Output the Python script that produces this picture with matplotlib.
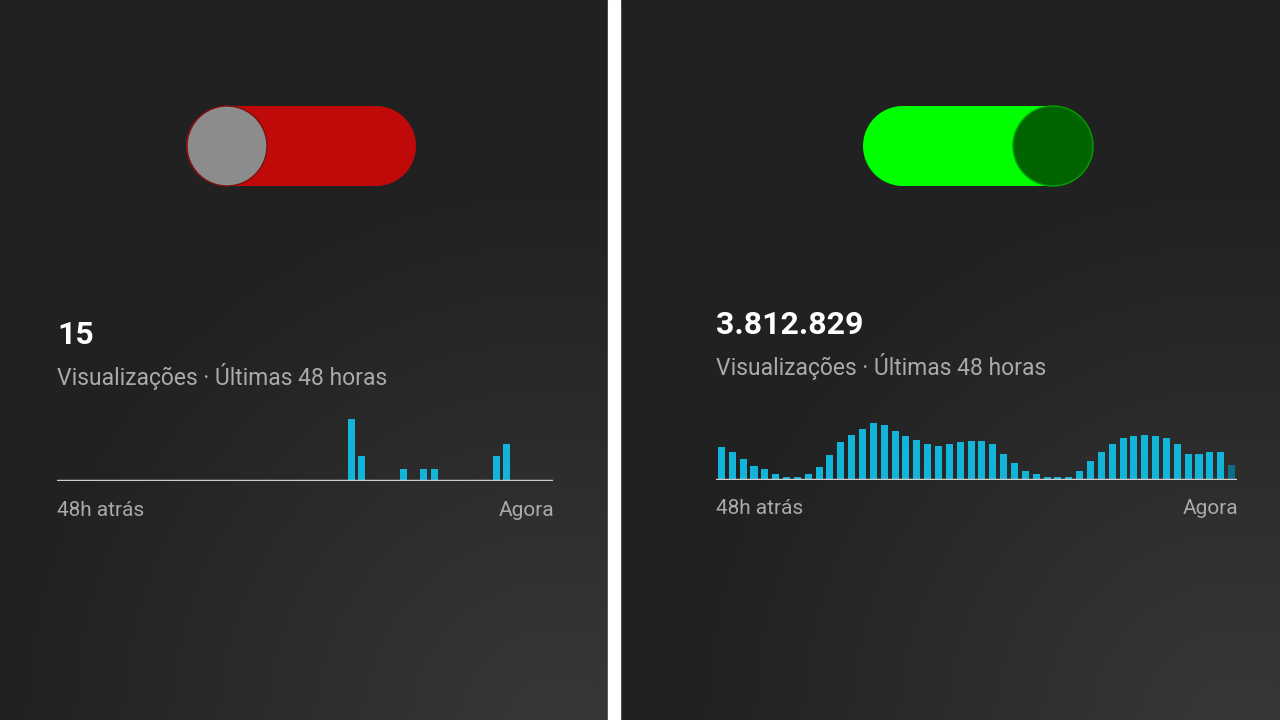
import numpy as np
import matplotlib
matplotlib.use("Agg")
import matplotlib.pyplot as plt
from matplotlib.patches import Circle, Rectangle

left_total = "15"
right_total = "3.812.829"
subtitle = "Visualizações · Últimas 48 horas"
x_start, x_end = "48h atrás", "Agora"
left_idx = [28, 29, 33, 35, 36, 42, 43]
left_vals = [5, 2, 1, 1, 1, 2, 3]
right_vals = [95, 83, 60, 40, 33, 17, 10, 10, 17, 38, 72, 110, 132, 150, 165, 160,
              143, 127, 117, 105, 100, 105, 110, 115, 115, 105, 77, 50, 27, 17, 10, 10,
              10, 27, 55, 83, 105, 122, 127, 132, 127, 122, 105, 77, 77, 83, 83, 43]

W, H = 1280, 720
fig = plt.figure(figsize=(12.8, 7.2), dpi=100)
bg = fig.add_axes([0, 0, 1, 1])
bg.set_xlim(0, W); bg.set_ylim(H, 0); bg.axis("off")

yy, xx = np.mgrid[0:H, 0:W]
g = 0.13 + 0.09 * (1 - np.clip(np.hypot((xx - np.where(xx < 614, 560, 1240)) / 550, (yy - 730) / 550), 0, 1))
img = np.dstack([g, g, g])
bg.imshow(img, extent=[0, W, H, 0], zorder=0)
bg.add_patch(Rectangle((608, 0), 12, H, color="white", zorder=1))

def toggle(x0, x1, yc, col, kx, kcol, kec):
    h = 80
    bg.add_patch(Rectangle((x0 + h / 2 - 1, yc - h / 2), x1 - x0 - h + 2, h, fc=col, ec="none", zorder=2))
    bg.add_patch(Circle((x0 + h / 2, yc), h / 2, fc=col, ec="none", zorder=2))
    bg.add_patch(Circle((x1 - h / 2, yc), h / 2, fc=col, ec="none", zorder=2))
    bg.add_patch(Circle((kx, yc), 40, fc=kcol, ec=kec, lw=1, zorder=3))

toggle(186, 416, 146, "#c00a0a", 227, "#8c8c8c", "#7a1010")
toggle(863, 1093, 146, "#00ff00", 1053, "#006400", "#00a000")

def texts(x, ytot, tot, xr, yax):
    bg.text(x, ytot, tot, color="white", fontsize=23, fontweight="bold", family="Roboto", va="center", zorder=4)
    bg.text(x, ytot + 41, subtitle, color="#aaaaaa", fontsize=16.5, family="Roboto", va="center", zorder=4)
    bg.text(x, yax, x_start, color="#aaaaaa", fontsize=15, family="Roboto", va="center", zorder=4)
    bg.text(xr, yax, x_end, color="#aaaaaa", fontsize=15, family="Roboto", va="center", ha="right", zorder=4)

texts(57, 335, left_total, 554, 511)
texts(716, 325, right_total, 1238, 509)

def bar_axes(x0, x1, ybase, ytop):
    ax = fig.add_axes([x0 / W, 1 - ybase / H, (x1 - x0) / W, (ybase - ytop) / H])
    ax.patch.set_alpha(0)
    ax.axis("off")
    ax.set_xlim(-0.5, 47.5)
    return ax

axl = bar_axes(57, 553, 481, 415)
axl.bar(left_idx, left_vals, width=0.65, color="#12b5d9")
axl.set_ylim(0, 5.3)
axl.axhline(0, color="#cccccc", lw=2.5)

axr = bar_axes(716, 1237, 480, 420)
cols = ["#12b5d9"] * 47 + ["#0e6d84"]
axr.bar(range(48), right_vals, width=0.65, color=cols)
axr.set_ylim(0, 175)
axr.axhline(0, color="#cccccc", lw=2.5)

fig.savefig("out.png", dpi=100)
